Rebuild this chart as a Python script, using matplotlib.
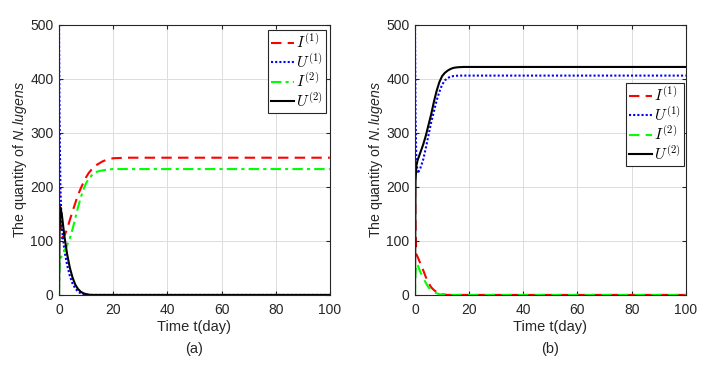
import matplotlib
matplotlib.use("Agg")
import matplotlib.pyplot as plt
from matplotlib.font_manager import FontProperties

plt.rcParams.update({"font.family": "Liberation Sans",
                     "mathtext.fontset": "custom",
                     "mathtext.it": "Liberation Sans:italic",
                     "mathtext.rm": "Liberation Sans"})

# values
t = [0, 0.2, 0.5, 1, 2, 3, 4, 5, 6, 7, 8, 9, 10, 11, 12, 13, 14, 15, 16, 18, 20, 25, 100]

I1_a = [200, 175, 140, 105, 110, 122, 139, 155, 170, 185, 197, 208, 218, 226, 232,
        237, 241, 244, 247, 251, 253, 254, 254]
U1_a = [500, 330, 200, 125, 82, 55, 35, 21, 12, 6, 3, 1.5, 0.5, 0, 0,
        0, 0, 0, 0, 0, 0, 0, 0]
I2_a = [0, 60, 68, 72, 82, 92, 105, 122, 142, 162, 180, 195, 207, 215, 221,
        225, 228, 229.5, 230.5, 232, 233, 233, 233]
U2_a = [0, 120, 162, 150, 108, 75, 50, 32, 19, 11, 6, 3, 1.5, 0.5, 0,
        0, 0, 0, 0, 0, 0, 0, 0]

I1_b = [200, 120, 75, 70, 58, 46, 33, 22, 14, 9, 5, 3, 1.5, 0.5, 0,
        0, 0, 0, 0, 0, 0, 0, 0]
U1_b = [500, 330, 250, 225, 235, 250, 272, 296, 320, 340, 360, 376, 389, 397, 401,
        404, 405, 405.5, 406, 406, 406, 406, 406]
I2_b = [0, 45, 58, 55, 42, 32, 22, 14, 8, 5, 3, 1.5, 0.8, 0.3, 0,
        0, 0, 0, 0, 0, 0, 0, 0]
U2_b = [0, 210, 240, 250, 264, 278, 295, 315, 335, 358, 378, 394, 405, 411, 415,
        418, 420, 421, 421.5, 422, 422, 422, 422]

labels = ["$I^{(1)}$", "$U^{(1)}$", "$I^{(2)}$", "$U^{(2)}$"]

fig = plt.figure(figsize=(7.07, 3.65), dpi=100)
ax_a = fig.add_axes([0.0835, 0.192, 0.383, 0.740])
ax_b = fig.add_axes([0.587, 0.192, 0.383, 0.740])

lw = 1.5

ax_a.plot(t, I1_a, color="red", ls=(0, (5, 3)), lw=lw, label=labels[0])
ax_a.plot(t, U1_a, color="blue", ls=(0, (1, 1)), lw=lw, label=labels[1])
ax_a.plot(t, I2_a, color="#00ff00", ls=(0, (5, 2, 1.5, 2)), lw=lw, label=labels[2])
ax_a.plot(t, U2_a, color="black", ls="-", lw=lw, label=labels[3])

ax_b.plot(t, I1_b, color="red", ls=(0, (5, 3)), lw=lw, label=labels[0])
ax_b.plot(t, U1_b, color="blue", ls=(0, (1, 1)), lw=lw, label=labels[1])
ax_b.plot(t, I2_b, color="#00ff00", ls=(0, (5, 3)), lw=lw, label=labels[2])
ax_b.plot(t, U2_b, color="black", ls="-", lw=lw, label=labels[3])

leg_font = FontProperties(family="DejaVu Serif", size=11, math_fontfamily="cm")

for ax, tag, anchor in [(ax_a, "(a)", (0.985, 0.981)), (ax_b, "(b)", (0.993, 0.785))]:
    ax.set_xlim(0, 100)
    ax.set_ylim(0, 500)
    ax.set_xticks([0, 20, 40, 60, 80, 100])
    ax.set_yticks([0, 100, 200, 300, 400, 500])
    ax.grid(True, color="#dcdcdc", lw=0.7)
    ax.set_axisbelow(True)
    ax.tick_params(direction="in", top=True, right=True, length=3,
                   labelsize=10, colors="#262626")
    ax.tick_params(axis="x", pad=6)
    ax.tick_params(axis="y", pad=4)
    for s in ax.spines.values():
        s.set_color("#262626")
        s.set_linewidth(0.8)
    ax.set_xlabel("Time t(day)", fontsize=10.5, color="#262626", labelpad=2)
    ax.set_ylabel("The quantity of $\\mathit{N.lugens}$", fontsize=10.2,
                  color="#262626", labelpad=1)
    ax.text(0.5, -0.2, tag, transform=ax.transAxes, ha="center", va="center",
            fontsize=10.5, color="#262626")
    leg = ax.legend(loc="upper right", bbox_to_anchor=anchor, prop=leg_font,
                    handlelength=1.5, handletextpad=0.1, borderpad=0.2,
                    labelspacing=0.08, fancybox=False, framealpha=1,
                    borderaxespad=0)
    leg.get_frame().set_edgecolor("#262626")
    leg.get_frame().set_linewidth(0.8)

fig.savefig("out.png", dpi=100)
